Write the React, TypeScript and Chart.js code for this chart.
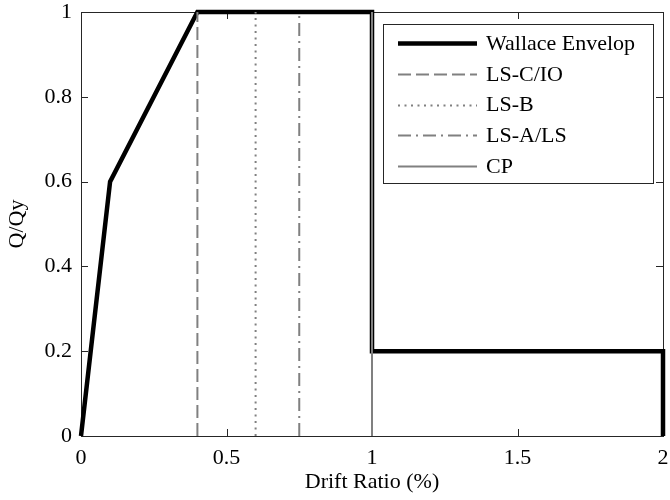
import React, { useEffect, useRef } from 'react';
import { Chart, registerables } from 'chart.js';

Chart.register(...registerables);

// ---- data ----
const wallaceDrift = [0, 0.1, 0.4, 1, 1, 2, 2];
const wallaceQ = [0, 0.6, 1, 1, 0.2, 0.2, 0];
const limitNames = ['LS-C/IO', 'LS-B', 'LS-A/LS', 'CP'];
const limitDrift = [0.4, 0.6, 0.75, 1.0];
const limitQ = [0, 1];
const xTicks = [0, 0.5, 1, 1.5, 2];
const xTickLabels = ['0', '0.5', '1', '1.5', '2'];
const yTicks = [0, 0.2, 0.4, 0.6, 0.8, 1];
const yTickLabels = ['0', '0.2', '0.4', '0.6', '0.8', '1'];
const xTitle = 'Drift Ratio (%)';
const yTitle = 'Q/Qy';
const wallaceName = 'Wallace Envelop';

const FONT = '"Liberation Serif", "Times New Roman", serif';
const FONT_SIZE = 22;
const AXIS_COLOR = '#262626';
const GRAY = '#808080';
const limitStyles = [
  { dash: [13, 5] },
  { dash: [2, 4.5] },
  { dash: [13, 5, 2, 5] },
  { dash: [] as number[] },
];

const boxPlugin = {
  id: 'matlabBox',
  beforeDatasetsDraw(chart: any) {
    const { ctx, chartArea: a, scales } = chart;
    ctx.save();
    ctx.strokeStyle = AXIS_COLOR;
    ctx.lineWidth = 1;
    ctx.setLineDash([]);
    ctx.strokeRect(a.left + 0.5, a.top + 0.5, a.right - a.left, a.bottom - a.top);
    const tl = 7;
    ctx.beginPath();
    for (const v of xTicks) {
      const px = Math.round(scales.x.getPixelForValue(v)) + 0.5;
      ctx.moveTo(px, a.bottom);
      ctx.lineTo(px, a.bottom - tl);
      ctx.moveTo(px, a.top);
      ctx.lineTo(px, a.top + tl);
    }
    for (const v of yTicks) {
      const py = Math.round(scales.y.getPixelForValue(v)) + 0.5;
      ctx.moveTo(a.left, py);
      ctx.lineTo(a.left + tl, py);
      ctx.moveTo(a.right, py);
      ctx.lineTo(a.right - tl, py);
    }
    ctx.stroke();
    ctx.restore();
  },
  afterDraw(chart: any) {
    const { ctx, chartArea: a } = chart;
    const w = 270;
    const h = 159;
    const bx = a.right - 10 - w;
    const by = a.top + 12;
    ctx.save();
    ctx.fillStyle = '#ffffff';
    ctx.fillRect(bx, by, w, h);
    ctx.strokeStyle = AXIS_COLOR;
    ctx.lineWidth = 1;
    ctx.setLineDash([]);
    ctx.strokeRect(bx + 0.5, by + 0.5, w, h);
    const items = chart.data.datasets;
    ctx.font = `${FONT_SIZE}px ${FONT}`;
    ctx.textBaseline = 'middle';
    ctx.textAlign = 'left';
    items.forEach((ds: any, i: number) => {
      const cy = by + 19 + i * 30.8;
      ctx.beginPath();
      ctx.strokeStyle = ds.borderColor;
      ctx.lineWidth = ds.borderWidth;
      ctx.setLineDash(ds.borderDash || []);
      ctx.moveTo(bx + 15, Math.round(cy) + 0.5);
      ctx.lineTo(bx + 94, Math.round(cy) + 0.5);
      ctx.stroke();
      ctx.fillStyle = '#000000';
      ctx.fillText(ds.label, bx + 103, cy + 1);
    });
    ctx.restore();
  },
};

export default function App() {
  const canvasRef = useRef<HTMLCanvasElement | null>(null);

  useEffect(() => {
    document.body.style.margin = '0';
    const canvas = canvasRef.current;
    if (!canvas) return;

    const datasets: any[] = [
      {
        label: wallaceName,
        data: wallaceDrift.map((x, i) => ({ x, y: wallaceQ[i] })),
        borderColor: '#000000',
        borderWidth: 4.5,
        borderDash: [],
        showLine: true,
        pointRadius: 0,
        clip: false,
        order: 10,
      },
      ...limitNames.map((name, i) => ({
        label: name,
        data: limitQ.map((y) => ({ x: limitDrift[i], y })),
        borderColor: GRAY,
        borderWidth: 2,
        borderDash: limitStyles[i].dash,
        showLine: true,
        pointRadius: 0,
        clip: false,
        order: 1,
      })),
    ];

    const chart = new Chart(canvas, {
      type: 'scatter',
      data: { datasets },
      plugins: [boxPlugin],
      options: {
        responsive: false,
        animation: false,
        layout: { padding: { left: 0, top: 12, right: 7, bottom: 0 } },
        plugins: {
          legend: { display: false },
          tooltip: { enabled: false },
        },
        scales: {
          x: {
            type: 'linear',
            min: 0,
            max: 2,
            grid: { display: false, drawTicks: false },
            border: { display: false },
            afterBuildTicks: (s: any) => {
              s.ticks = xTicks.map((v) => ({ value: v }));
            },
            afterFit: (s: any) => {
              s.height = 64;
              s.paddingLeft = 0;
              s.paddingRight = 0;
            },
            ticks: {
              padding: 9,
              color: '#000000',
              maxRotation: 0,
              font: { family: FONT, size: FONT_SIZE },
              callback: (v: any) => xTickLabels[xTicks.indexOf(Number(v))] ?? '',
            },
            title: {
              display: true,
              text: xTitle,
              color: '#000000',
              font: { family: FONT, size: FONT_SIZE },
              padding: { top: 0, bottom: 5 },
            },
          },
          y: {
            type: 'linear',
            min: 0,
            max: 1,
            grid: { display: false, drawTicks: false },
            border: { display: false },
            afterBuildTicks: (s: any) => {
              s.ticks = yTicks.map((v) => ({ value: v }));
            },
            afterFit: (s: any) => {
              s.width = 81;
              s.paddingTop = 0;
              s.paddingBottom = 0;
            },
            ticks: {
              padding: 9,
              color: '#000000',
              font: { family: FONT, size: FONT_SIZE },
              callback: (v: any) => yTickLabels[yTicks.indexOf(Number(v))] ?? '',
            },
            title: {
              display: true,
              text: yTitle,
              color: '#000000',
              font: { family: FONT, size: FONT_SIZE },
              padding: { top: 4, bottom: 0 },
            },
          },
        },
      } as any,
    });

    return () => {
      chart.destroy();
    };
  }, []);

  return (
    <div style={{ width: 670, height: 500, position: 'relative', background: '#ffffff' }}>
      <canvas ref={canvasRef} width={670} height={500} style={{ display: 'block' }} />
    </div>
  );
}
